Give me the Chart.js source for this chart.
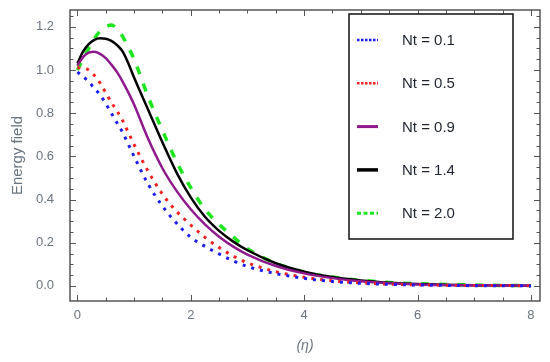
<!DOCTYPE html>
<html>
<head>
<meta charset="utf-8">
<script src="https://cdn.jsdelivr.net/npm/chart.js@4.4.1/dist/chart.umd.min.js"></script>
<style>
    html, body { margin: 0; padding: 0; background: #fff; }
    #wrap { width: 550px; height: 362px; }
</style>
</head>
<body>
<div id="wrap"><canvas id="energyChart"></canvas></div>
<script>
// eta grid shared by all curves
const eta = [0, 0.1, 0.2, 0.3, 0.4, 0.5, 0.6, 0.7, 0.8, 0.9, 1, 1.25, 1.5, 1.75, 2, 2.25, 2.5, 2.75, 3, 3.5, 4, 4.5, 5, 5.5, 6, 7, 8];

const nt01 = [0.99, 0.97, 0.945, 0.915, 0.885, 0.845, 0.80, 0.755, 0.71, 0.655, 0.6, 0.47, 0.37, 0.29, 0.225, 0.183, 0.148, 0.116, 0.09, 0.057, 0.035, 0.02, 0.012, 0.007, 0.004, 0.001, 0];
const nt05 = [1.01, 1.01, 1.0, 0.975, 0.94, 0.895, 0.85, 0.81, 0.765, 0.71, 0.655, 0.53, 0.425, 0.345, 0.282, 0.225, 0.178, 0.138, 0.107, 0.066, 0.04, 0.024, 0.014, 0.008, 0.005, 0.002, 0.001];
const nt09 = [1.02, 1.06, 1.08, 1.085, 1.075, 1.055, 1.025, 0.99, 0.945, 0.895, 0.84, 0.68, 0.545, 0.44, 0.355, 0.285, 0.228, 0.182, 0.145, 0.092, 0.058, 0.036, 0.021, 0.012, 0.007, 0.003, 0.001];
const nt14 = [1.03, 1.085, 1.12, 1.14, 1.147, 1.145, 1.135, 1.115, 1.085, 1.03, 0.965, 0.815, 0.665, 0.525, 0.41, 0.32, 0.255, 0.205, 0.165, 0.105, 0.066, 0.041, 0.025, 0.015, 0.009, 0.003, 0.001];
const nt20 = [1.0, 1.05, 1.1, 1.145, 1.18, 1.2, 1.208, 1.19, 1.155, 1.105, 1.05, 0.875, 0.72, 0.575, 0.455, 0.355, 0.285, 0.227, 0.172, 0.105, 0.064, 0.041, 0.026, 0.016, 0.01, 0.004, 0.001];

const seriesLabels = ["Nt = 0.1", "Nt = 0.5", "Nt = 0.9", "Nt = 1.4", "Nt = 2.0"];
const xTicks = [0, 2, 4, 6, 8];
const yTicks = [0, 0.2, 0.4, 0.6, 0.8, 1.0, 1.2];

const FONT = "'Liberation Sans', Arial, sans-serif";
const TICK_COLOR = "#6a7480";
const FRAME_COLOR = "#555";

function points(ys) {
    return eta.map((x, i) => ({ x: x, y: ys[i] }));
}

// line styles for plot and legend sample
const styles = [
    { color: "#1c1cf0", width: 3, dash: [3, 6], legendWidth: 2.5, legendDash: [2.5, 1.5] },
    { color: "#f52020", width: 3, dash: [3, 6], legendWidth: 2.5, legendDash: [2.5, 1.5] },
    { color: "#8e1a8e", width: 2.5, dash: [], legendWidth: 3, legendDash: [] },
    { color: "#000000", width: 2.5, dash: [], legendWidth: 3.5, legendDash: [] },
    { color: "#1ee61e", width: 3.5, dash: [8, 10], legendWidth: 3, legendDash: [4, 2.5] }
];

const allSeries = [nt01, nt05, nt09, nt14, nt20];

// frame with inward ticks on all four sides, then the boxed legend
const overlay = {
    id: "overlay",
    afterDraw(chart) {
        const ctx = chart.ctx;
        const a = chart.chartArea;
        const xs = chart.scales.x, ys = chart.scales.y;
        ctx.save();
        ctx.setLineDash([]);
        ctx.strokeStyle = FRAME_COLOR;
        ctx.lineWidth = 1;
        for (let k = 0; k <= 16; k++) {
            const px = Math.round(xs.getPixelForValue(k * 0.5)) + 0.5;
            const len = (k % 4 === 0) ? 6 : 3.5;
            ctx.beginPath();
            ctx.moveTo(px, a.bottom); ctx.lineTo(px, a.bottom - len);
            ctx.moveTo(px, a.top); ctx.lineTo(px, a.top + len);
            ctx.stroke();
        }
        for (let k = 0; k <= 25; k++) {
            const py = Math.round(ys.getPixelForValue(k * 0.05)) + 0.5;
            const len = (k % 4 === 0) ? 6 : 3.5;
            ctx.beginPath();
            ctx.moveTo(a.left, py); ctx.lineTo(a.left + len, py);
            ctx.moveTo(a.right, py); ctx.lineTo(a.right - len, py);
            ctx.stroke();
        }
        ctx.lineWidth = 1.5;
        ctx.strokeRect(a.left, a.top, a.right - a.left, a.bottom - a.top);

        // legend box
        const box = { left: 349, top: 14, right: 513, bottom: 239 };
        ctx.fillStyle = "#fff";
        ctx.fillRect(box.left, box.top, box.right - box.left, box.bottom - box.top);
        ctx.strokeStyle = "#111";
        ctx.lineWidth = 1.5;
        ctx.strokeRect(box.left, box.top, box.right - box.left, box.bottom - box.top);
        ctx.font = "15px " + FONT;
        ctx.textBaseline = "middle";
        chart.data.datasets.forEach((ds, i) => {
            const st = styles[i];
            const y = 40 + i * 43.3;
            ctx.strokeStyle = st.color;
            ctx.lineWidth = st.legendWidth;
            ctx.setLineDash(st.legendDash);
            ctx.beginPath();
            ctx.moveTo(357, y); ctx.lineTo(378, y);
            ctx.stroke();
            ctx.setLineDash([]);
            ctx.fillStyle = "#1e2530";
            ctx.fillText(ds.label, 402, y + 1);
        });
        ctx.restore();
    }
};

new Chart(document.getElementById("energyChart").getContext("2d"), {
    type: "line",
    data: {
        datasets: allSeries.map((s, i) => ({
            label: seriesLabels[i],
            data: points(s),
            borderColor: styles[i].color,
            borderWidth: styles[i].width,
            borderDash: styles[i].dash,
            pointRadius: 0,
            fill: false,
            cubicInterpolationMode: "monotone"
        }))
    },
    options: {
        responsive: true,
        maintainAspectRatio: false,
        animation: false,
        layout: { padding: { top: 10, right: 10, left: 0, bottom: 0 } },
        plugins: {
            legend: { display: false },
            tooltip: { enabled: false }
        },
        scales: {
            x: {
                type: "linear",
                min: -0.13,
                max: 8.16,
                grid: { display: false, drawTicks: false },
                border: { display: false },
                afterBuildTicks: s => { s.ticks = xTicks.map(v => ({ value: v })); },
                afterFit: s => { s.height = 61; s.paddingLeft = 0; s.paddingRight = 0; },
                ticks: {
                    color: TICK_COLOR,
                    font: { family: FONT, size: 13 },
                    padding: 7,
                    maxRotation: 0,
                    callback: v => String(v)
                },
                title: {
                    display: true,
                    text: "(\u03b7)",
                    color: TICK_COLOR,
                    font: { family: FONT, size: 14, style: "italic" },
                    padding: { top: 0, bottom: 7 }
                }
            },
            y: {
                type: "linear",
                min: -0.07,
                max: 1.278,
                grid: { display: false, drawTicks: false },
                border: { display: false },
                afterBuildTicks: s => { s.ticks = yTicks.map(v => ({ value: v })); },
                afterFit: s => { s.width = 70; s.paddingTop = 0; s.paddingBottom = 0; },
                ticks: {
                    color: TICK_COLOR,
                    font: { family: FONT, size: 13 },
                    padding: 16,
                    callback: v => v.toFixed(1)
                },
                title: {
                    display: true,
                    text: "Energy field",
                    color: TICK_COLOR,
                    font: { family: FONT, size: 15 },
                    padding: { top: 9, bottom: 0 }
                }
            }
        }
    },
    plugins: [overlay]
});
</script>
</body>
</html>
